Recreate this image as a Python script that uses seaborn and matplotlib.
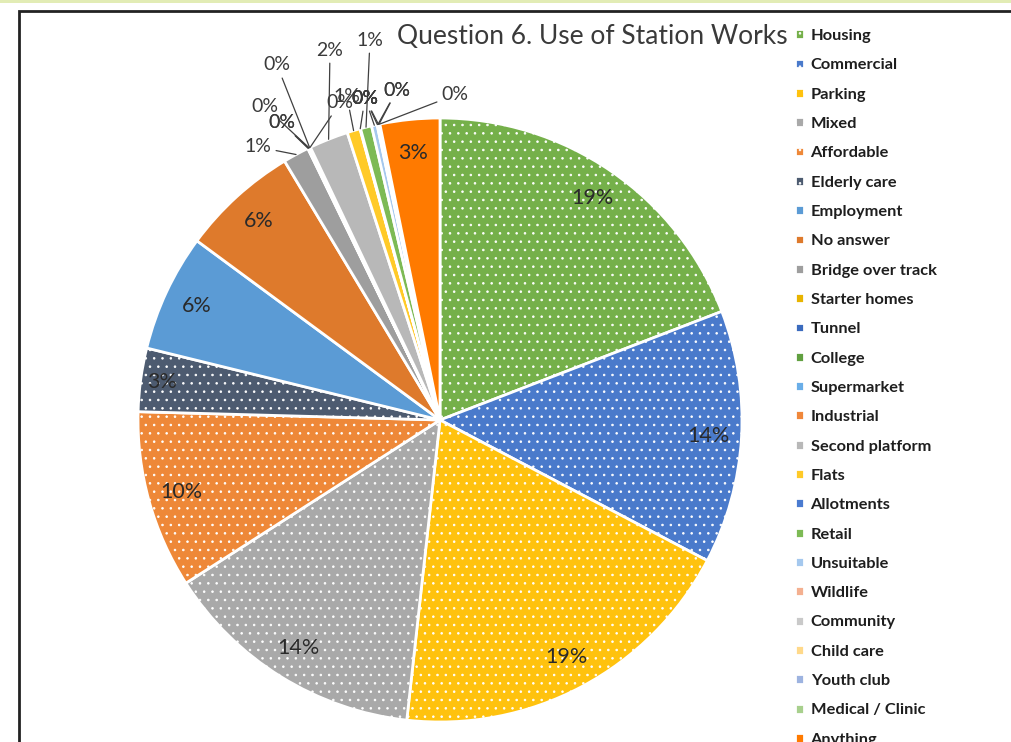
import matplotlib
matplotlib.use("Agg")
import matplotlib.pyplot as plt
import seaborn as sns
from matplotlib.patches import Rectangle
import numpy as np

# Survey answers, clockwise from 12 o'clock
categories = [
    "Housing", "Commercial", "Parking", "Mixed", "Affordable", "Elderly care",
    "Employment", "No answer", "Bridge over track", "Starter homes", "Tunnel",
    "College", "Supermarket", "Industrial", "Second platform", "Flats",
    "Allotments", "Retail", "Unsuitable", "Wildlife", "Community",
    "Child care", "Youth club", "Medical / Clinic", "Anything",
]
shares = [
    19.2, 13.6, 19.1, 14.2, 9.55, 3.4,
    6.3, 6.3, 1.4, 0.03, 0.03,
    0.03, 0.03, 0.03, 2.1, 0.7,
    0.03, 0.6, 0.3, 0.03, 0.03,
    0.03, 0.03, 0.03, 3.2,
]

colors = [
    "#75B04A", "#4A7ACB", "#FFC20E", "#A9A9A9", "#EE8838", "#4D5B70",
    "#5B9BD5", "#DE7A2C", "#9E9E9E", "#E8B400", "#3B6BBE",
    "#61A040", "#6AAEE8", "#F0873A", "#B8B8B8", "#FFCA28",
    "#4A7BD0", "#7DBA55", "#A5C8EE", "#F4B090", "#C9C9C9",
    "#FFD98A", "#9DB3E0", "#A8D08D", "#FF7A00",
]
dotted = 6  # the first six slices carry a dotted fill

# Outside label text centres for the thin slices (pixel coords)
outside_label_px = {
    "Bridge over track": (258, 147),
    "Starter homes": (282, 123),
    "Tunnel": (282, 123),
    "College": (265, 107),
    "Supermarket": (277, 65),
    "Industrial": (340, 103),
    "Second platform": (330, 50),
    "Flats": (347, 97),
    "Allotments": (365, 98),
    "Retail": (370, 40),
    "Unsuitable": (365, 98),
    "Wildlife": (365, 98),
    "Community": (397, 90),
    "Child care": (365, 98),
    "Youth club": (397, 90),
    "Medical / Clinic": (455, 95),
}

sns.set_theme(style="white")
plt.rcParams["font.family"] = ["Lato", "DejaVu Sans"]
plt.rcParams["hatch.linewidth"] = 0.6

W, H, DPI = 1011, 742, 100
CX, CY, R = 440, 420, 302  # pie centre and radius in pixels

fig = plt.figure(figsize=(W / DPI, H / DPI), dpi=DPI)
fig.patch.set_facecolor("white")
ax = fig.add_axes([0, 0, 1, 1])

wedges, _ = ax.pie(
    shares, colors=colors, startangle=90, counterclock=False, radius=1.0,
    wedgeprops=dict(edgecolor="white", linewidth=2.0),
)
for i, w in enumerate(wedges):
    if i < dotted:
        w.set_hatch("..")

ax.set_xlim(-CX / R, (W - CX) / R)
ax.set_ylim(-(H - CY) / R, CY / R)
ax.set_aspect("auto")
ax.axis("off")

total = float(np.sum(shares))


def px_to_data(px, py):
    return (px - CX) / R, (CY - py) / R


for name, w, v in zip(categories, wedges, shares):
    pct = v / total * 100
    text = "%.0f%%" % pct
    mid = np.deg2rad((w.theta1 + w.theta2) / 2)
    if name in outside_label_px:
        tx, ty = px_to_data(*outside_label_px[name])
        ax.annotate(
            text, xy=(np.cos(mid), np.sin(mid)), xytext=(tx, ty),
            ha="center", va="center", fontsize=14, color="#3a3a3a",
            arrowprops=dict(arrowstyle="-", color="#404040", lw=0.9,
                            shrinkA=1, shrinkB=0),
        )
    else:
        d = 0.93 if name == "Elderly care" else 0.89
        ax.text(d * np.cos(mid), d * np.sin(mid), text, ha="center",
                va="center", fontsize=15.5, color="#2a2a2a")

fig.text(592 / W, 1 - 36 / H, "Question 6. Use of Station Works",
         ha="center", va="center", fontsize=19, fontweight="normal",
         color="#3a3a3a")

leg = fig.legend(
    wedges, categories, loc="upper left",
    bbox_to_anchor=(795 / W, 1 - 29 / H), frameon=False,
    handlelength=0.55, handleheight=0.55, handletextpad=0.4,
    labelspacing=0.935, borderpad=0, borderaxespad=0,
    prop=dict(weight="bold", size=11.8),
)
for t in leg.get_texts():
    t.set_color("#1e1e1e")

# Frame and top rule
fig.add_artist(Rectangle((18.5 / W, -0.2), 2.0, 1.2 - 10.5 / H,
                         transform=fig.transFigure, fill=False,
                         edgecolor="#222222", linewidth=2.0))
fig.add_artist(Rectangle((0, 1 - 2.5 / H), 1, 2.5 / H,
                         transform=fig.transFigure, facecolor="#e2ecb5",
                         edgecolor="none"))

fig.savefig("out.png", dpi=DPI)
